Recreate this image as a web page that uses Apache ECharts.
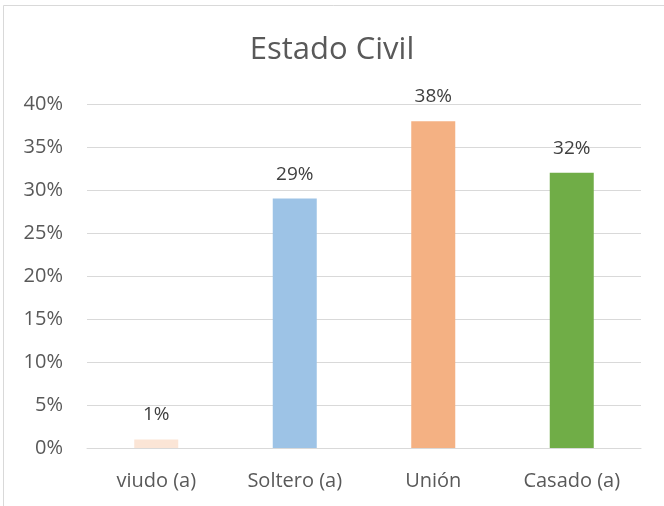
<!DOCTYPE html>
<html><head><meta charset="utf-8">
<script src="https://cdn.jsdelivr.net/npm/echarts@6/dist/echarts.min.js"></script>
<style>html,body{margin:0;padding:0;background:#fff}#c{width:664px;height:506px}</style>
</head><body><div id="c"></div>
<script>
const categories = ["viudo (a)", "Soltero (a)", "Unión", "Casado (a)"];
const values = [1, 29, 38, 32];
const colors = ["#FBE5D6", "#9DC3E6", "#F4B183", "#70AD47"];
const yTicks = [0, 5, 10, 15, 20, 25, 30, 35, 40];

const FONT = "'Open Sans', sans-serif";
const chart = echarts.init(document.getElementById('c'));
chart.setOption({
  animation: false,
  backgroundColor: '#fff',
  title: {
    text: 'Estado Civil', left: 'center', top: 30,
    textStyle: {fontFamily: FONT, fontSize: 31, fontWeight: 'normal', color: '#595959'}
  },
  graphic: [
    {type: 'line', shape: {x1: 3.5, y1: 5.5, x2: 3.5, y2: 506}, style: {stroke: '#d9d9d9', lineWidth: 1}},
    {type: 'line', shape: {x1: 3.5, y1: 5.5, x2: 664, y2: 5.5}, style: {stroke: '#d9d9d9', lineWidth: 1}}
  ],
  grid: {left: 87, right: 23, top: 104, bottom: 58},
  xAxis: {
    type: 'category', data: categories,
    axisLine: {show: true, lineStyle: {color: '#d9d9d9', width: 1}},
    axisTick: {show: false},
    axisLabel: {fontFamily: FONT, fontSize: 20, color: '#595959', margin: 23}
  },
  yAxis: {
    type: 'value', min: yTicks[0], max: yTicks[yTicks.length - 1], interval: 5,
    axisLine: {show: false}, axisTick: {show: false},
    splitLine: {lineStyle: {color: '#d9d9d9', width: 1}},
    axisLabel: {fontFamily: FONT, fontSize: 20, color: '#595959', margin: 24, formatter: v => v + '%'}
  },
  series: [{
    type: 'bar', barWidth: 44,
    data: values.map((v, i) => ({value: v, itemStyle: {color: colors[i]}})),
    label: {show: true, position: 'top', distance: 15, fontFamily: FONT, fontSize: 19, color: '#404040', formatter: p => p.value + '%'}
  }]
});
</script></body></html>
